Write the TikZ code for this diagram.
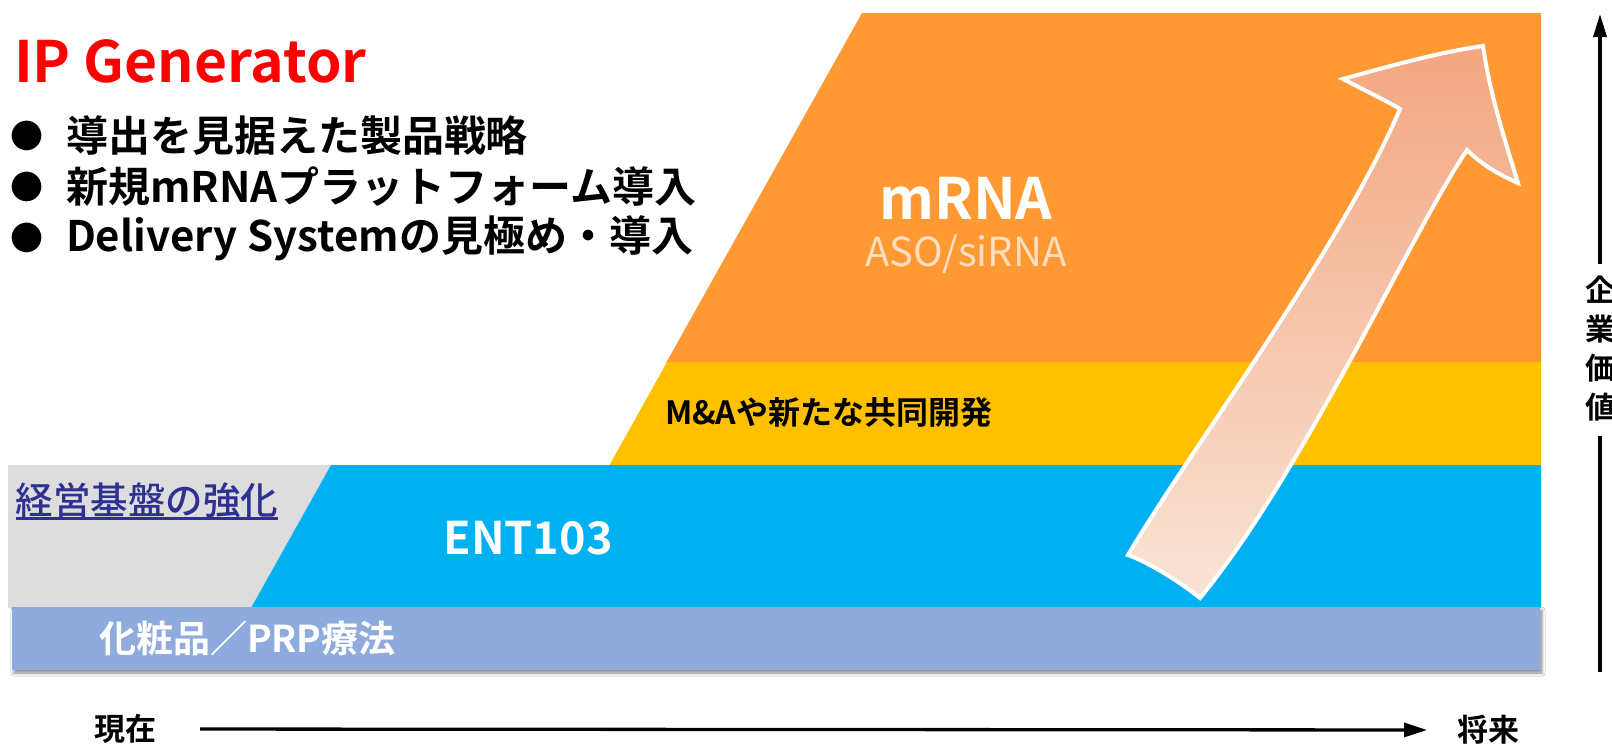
\documentclass[tikz,border=0pt]{standalone}
\usepackage{fontspec}
\setmainfont{Noto Sans CJK JP}[BoldFont={Noto Sans CJK JP Bold}]
\newfontfamily\jpmed{Noto Sans CJK JP Medium}
\usetikzlibrary{arrows.meta,shadows.blur}
\definecolor{cOrange}{RGB}{255,153,51}
\definecolor{cYellow}{RGB}{255,192,0}
\definecolor{cBlue}{RGB}{0,176,240}
\definecolor{cGray}{RGB}{221,221,221}
\definecolor{cLav}{RGB}{143,170,220}
\definecolor{cNavy}{RGB}{46,49,146}
\definecolor{cRed}{RGB}{255,0,0}
\definecolor{arTop}{RGB}{243,166,128}
\definecolor{arMid}{RGB}{252,204,198}
\definecolor{arBot}{RGB}{249,228,214}
\definecolor{cAso}{RGB}{253,222,192}
\newcommand\fsz[1]{\fontsize{#1}{#1}\selectfont}
\newcommand\thul[1]{\setbox0\hbox{#1}\rlap{\vrule height -3pt depth 6pt width \wd0}\box0}
\begin{document}
\begin{tikzpicture}[x=1pt,y=-1pt,
  txt/.style={inner sep=0pt,outer sep=0pt},
  axisline/.style={line width=3.3pt,black},
]
\useasboundingbox (0,0) rectangle (1612,744);
\fill[white] (0,0) rectangle (1612,744);
% bands
\fill[cOrange] (862,13) -- (1541,13) -- (1541,363) -- (666,363) -- cycle;
\fill[cYellow] (667,362) -- (1541,362) -- (1541,466) -- (609,466) -- cycle;
\fill[cGray] (8,465) -- (331,465) -- (251,608) -- (8,608) -- cycle;
\fill[cBlue] (331,465) -- (1541,465) -- (1541,608) -- (251,608) -- cycle;
\fill[cLav, blur shadow={shadow xshift=2pt,shadow yshift=-3pt,shadow blur radius=3pt,shadow opacity=45}] (12,607) rectangle (1540,670);
% big arrow
\path[draw=white, line width=4pt, line join=miter, top color=arTop, middle color=arMid, bottom color=arBot]
 (1128,555) .. controls (1190,450) and (1340,250) .. (1400,109)
 .. controls (1385,100) and (1360,88) .. (1343,79)
 .. controls (1390,66) and (1440,52) .. (1483,46)
 .. controls (1490,95) and (1505,140) .. (1518,183)
 .. controls (1500,175) and (1482,165) .. (1467,150)
 .. controls (1410,235) and (1305,470) .. (1200,598)
 .. controls (1180,582) and (1150,563) .. (1128,555) -- cycle;
% texts
\node[txt, anchor=base west, text=cRed] (ipgen) at (14,82) {\bfseries\fsz{57}IP Generator};
\node[txt] (b1) at (27,136) {\fsz{33}●};
\node[txt] (b2) at (27,187) {\fsz{33}●};
\node[txt] (b3) at (27,238) {\fsz{33}●};
\node[txt, anchor=west] (l1) at (66,136) {\bfseries\fsz{42}導出を見据えた製品戦略};
\node[txt, anchor=west] (l2) at (66,187) {\bfseries\fsz{42}新規mRNAプラットフォーム導入};
\node[txt, anchor=west] (l3) at (66,238) {\bfseries\fsz{42}Delivery Systemの見極め・導入};
\node[txt, text=white] (mrna) at (966,198) {\bfseries\fsz{57}mRNA};
\node[txt, text=cAso] (aso) at (966,254) {\fsz{40}ASO/siRNA};
\node[txt, anchor=west] (ma) at (665,412) {\bfseries\fsz{32}M\&Aや新たな共同開発};
\node[txt, text=white] (ent) at (528,538) {\bfseries\fsz{45}ENT103};
\node[txt, anchor=base west, text=cNavy] (kei) at (16,514) {\jpmed\fsz{37.5}\thul{経営基盤の強化}};
\node[txt, anchor=west, text=white] (cos) at (99,638) {\bfseries\fsz{37}化粧品／PRP療法};
\node[txt] (now) at (125,729) {\bfseries\fsz{31}現在};
\node[txt] (fut) at (1488,730) {\bfseries\fsz{31}将来};
\node[txt, align=center, font=\bfseries\fontsize{30}{39}\selectfont] (val) at (1600,349) {企\\業\\価\\値};
% axes
\coordinate (vtop) at (1600,14);
\coordinate (vbot) at (1600,672);
\draw[axisline, -{Triangle[length=23pt,width=14pt]}, shorten <=44pt, shorten >=30pt] (now.east) -- (fut.west);
\draw[axisline, -{Triangle[length=23pt,width=13pt]}, shorten <=12pt] (val.north) -- (vtop);
\draw[axisline, shorten <=14pt] (val.south) -- (vbot);
\end{tikzpicture}
\end{document}
